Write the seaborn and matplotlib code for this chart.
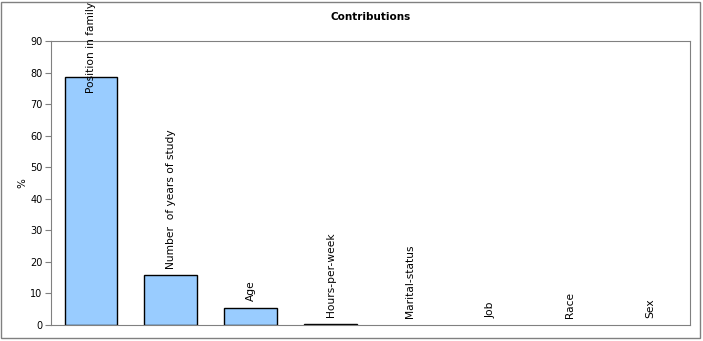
import matplotlib
matplotlib.use("Agg")
import matplotlib.pyplot as plt
import seaborn as sns
import pandas as pd

categories = ["Position in family", "Number  of years of study", "Age", "Hours-per-week",
              "Marital-status", "Job", "Race", "Sex"]
values = [78.5, 15.7, 5.4, 0.3, 0.0, 0.0, 0.0, 0.0]
yticks = [0, 10, 20, 30, 40, 50, 60, 70, 80, 90]

sns.set_style("white")
plt.rcParams['font.family'] = ['DejaVu Sans']
plt.rcParams['text.color'] = 'black'
plt.rcParams['xtick.color'] = 'black'
plt.rcParams['ytick.color'] = 'black'
plt.rcParams['axes.labelcolor'] = 'black'

df = pd.DataFrame({"var": categories, "val": values})

W, H = 703, 341
fig = plt.figure(figsize=(W / 100, H / 100), dpi=100)
ax = fig.add_axes([51 / W, 1 - 325 / H, (690 - 51) / W, (325 - 41) / H])

sns.barplot(data=df, x="var", y="val", ax=ax, color="#99CCFF", edgecolor="black",
            linewidth=1.0, width=0.66, saturation=1)
for p in ax.patches:
    if p.get_height() == 0:
        p.set_linewidth(0)

ax.set_xlim(-0.5, len(categories) - 0.5)
ax.set_ylim(0, 90)
ax.set_yticks(yticks)
ax.set_yticklabels([str(t) for t in yticks], fontsize=7)
ax.set_xticks([])
ax.set_xlabel("")
ax.set_ylabel("%", fontsize=7.5, labelpad=2)
ax.tick_params(axis="y", direction="out", length=4, width=0.8, color="#808080",
               labelcolor="black", pad=2, left=True)

for s in ["top", "right", "left", "bottom"]:
    ax.spines[s].set_color("#808080")
    ax.spines[s].set_linewidth(0.8)

# data labels (category names) above each bar
for i, (c, v) in enumerate(zip(categories, values)):
    if v > 70:
        ax.text(i, 1 - 2 / H, c, rotation=90, ha="center", va="top", fontsize=7.7,
                transform=matplotlib.transforms.blended_transform_factory(ax.transData, fig.transFigure),
                clip_on=False)
    else:
        ax.annotate(c, (i, v), xytext=(0, 5), textcoords="offset points",
                    rotation=90, ha="center", va="bottom", fontsize=7.7)

fig.text((51 + 690) / 2 / W, 1 - 17 / H, "Contributions", ha="center", va="center",
         fontsize=7.5, fontweight="bold")

# figure border
fig.patches.append(matplotlib.patches.Rectangle((1 / W, 3 / H), (W - 4) / W, (H - 5) / H,
                                                 transform=fig.transFigure, fill=False,
                                                 edgecolor="#808080", linewidth=1.0))

fig.savefig("out.png", dpi=100)
